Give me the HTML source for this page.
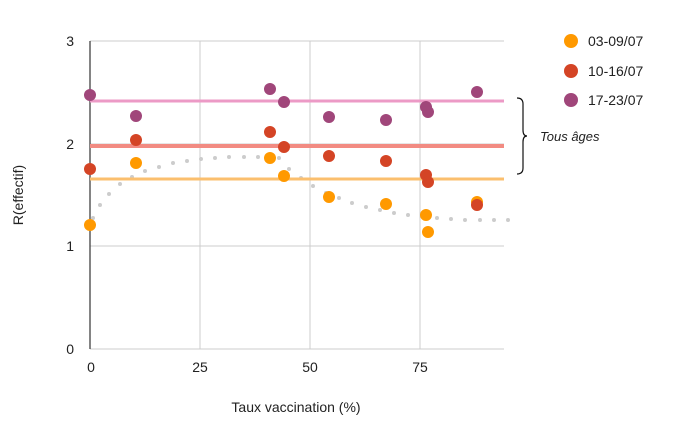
<!DOCTYPE html><html><head><style>body{margin:0;background:#fff}</style></head><body>
<svg width="684" height="436" xmlns="http://www.w3.org/2000/svg" font-family="Liberation Sans, sans-serif">
<g stroke="#ccc" stroke-width="1">
<line x1="90" y1="41" x2="504" y2="41"/><line x1="90" y1="144" x2="504" y2="144"/><line x1="90" y1="246" x2="504" y2="246"/><line x1="90" y1="349" x2="504" y2="349"/>
<line x1="200" y1="41" x2="200" y2="349"/><line x1="310" y1="41" x2="310" y2="349"/><line x1="420" y1="41" x2="420" y2="349"/>
</g>
<line x1="90" y1="41" x2="90" y2="349" stroke="#333" stroke-width="1.2"/>
<g font-size="14" fill="#222" text-anchor="end"><text x="74" y="46">3</text><text x="74" y="149">2</text><text x="74" y="251">1</text><text x="74" y="354">0</text></g>
<g font-size="14" fill="#222" text-anchor="middle"><text x="91" y="372">0</text><text x="200" y="372">25</text><text x="310" y="372">50</text><text x="420" y="372">75</text></g>
<text x="296" y="412" font-size="14" text-anchor="middle" fill="#222">Taux vaccination (%)</text>
<text transform="translate(23,195) rotate(-90)" font-size="14" text-anchor="middle" fill="#222">R(effectif)</text>
<g fill="#ccc">
<circle cx="93" cy="218" r="2"/><circle cx="100" cy="205" r="2"/><circle cx="109" cy="194" r="2"/><circle cx="120" cy="184" r="2"/><circle cx="132" cy="177" r="2"/><circle cx="145" cy="171" r="2"/><circle cx="159" cy="167" r="2"/><circle cx="173" cy="163" r="2"/><circle cx="187" cy="161" r="2"/><circle cx="201" cy="159" r="2"/><circle cx="215" cy="158" r="2"/><circle cx="229" cy="157" r="2"/><circle cx="244" cy="157" r="2"/><circle cx="258" cy="157" r="2"/><circle cx="279" cy="158" r="2"/><circle cx="289" cy="169" r="2"/><circle cx="301" cy="178" r="2"/><circle cx="313" cy="186" r="2"/><circle cx="326" cy="193" r="2"/><circle cx="339" cy="198" r="2"/><circle cx="352" cy="203" r="2"/><circle cx="366" cy="207" r="2"/><circle cx="380" cy="210" r="2"/><circle cx="394" cy="213" r="2"/><circle cx="408" cy="215" r="2"/><circle cx="423" cy="217" r="2"/><circle cx="437" cy="218" r="2"/><circle cx="451" cy="219" r="2"/><circle cx="465" cy="220" r="2"/><circle cx="480" cy="220" r="2"/><circle cx="494" cy="220" r="2"/><circle cx="508" cy="220" r="2"/>
</g>
<line x1="90" y1="101" x2="504" y2="101" stroke="#ec9ac6" stroke-width="3"/>
<line x1="90" y1="146" x2="504" y2="146" stroke="#f28b82" stroke-width="4"/>
<line x1="90" y1="179" x2="504" y2="179" stroke="#fbbf6e" stroke-width="3"/>
<g fill="#a0467a">
<circle cx="90" cy="95" r="6"/><circle cx="136" cy="116" r="6"/><circle cx="270" cy="89" r="6"/><circle cx="284" cy="102" r="6"/><circle cx="329" cy="117" r="6"/><circle cx="386" cy="120" r="6"/><circle cx="426" cy="107" r="6"/><circle cx="428" cy="112" r="6"/><circle cx="477" cy="92" r="6"/></g>
<g fill="#ff9900">
<circle cx="90" cy="225" r="6"/><circle cx="136" cy="163" r="6"/><circle cx="270" cy="158" r="6"/><circle cx="284" cy="176" r="6"/><circle cx="329" cy="197" r="6"/><circle cx="386" cy="204" r="6"/><circle cx="426" cy="215" r="6"/><circle cx="428" cy="232" r="6"/><circle cx="477" cy="202" r="6"/></g>
<g fill="#d44425">
<circle cx="90" cy="169" r="6"/><circle cx="136" cy="140" r="6"/><circle cx="270" cy="132" r="6"/><circle cx="284" cy="147" r="6"/><circle cx="329" cy="156" r="6"/><circle cx="386" cy="161" r="6"/><circle cx="426" cy="175" r="6"/><circle cx="428" cy="182" r="6"/><circle cx="477" cy="205" r="6"/></g>
<circle cx="571" cy="41" r="7" fill="#ff9900"/><circle cx="571" cy="71" r="7" fill="#d44425"/><circle cx="571" cy="100" r="7" fill="#a0467a"/>
<g font-size="14" fill="#222"><text x="588" y="46">03-09/07</text><text x="588" y="76">10-16/07</text><text x="588" y="105">17-23/07</text></g>
<path d="M517,98 Q523,98 523,104 L523,130 Q523,136 527,136 Q523,136 523,142 L523,168 Q523,174 517,174" fill="none" stroke="#111" stroke-width="1.2"/>
<text x="540" y="141" font-size="13" font-style="italic" fill="#222">Tous âges</text>
</svg>
</body></html>
